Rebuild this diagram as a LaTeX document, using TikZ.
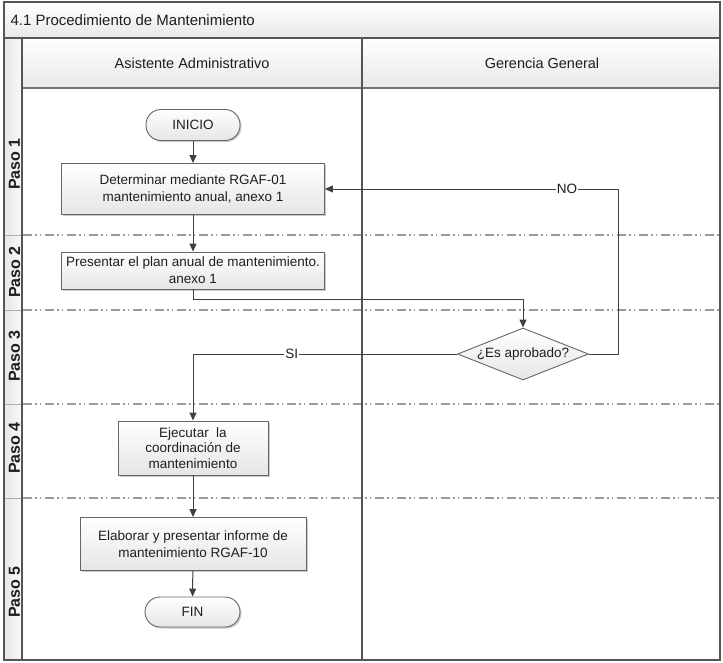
\documentclass[tikz,border=0pt]{standalone}
\usepackage{fontspec}
\setmainfont{Liberation Sans}
\usetikzlibrary{shapes.geometric,arrows.meta,shadows}
\definecolor{framegray}{HTML}{555555}
\definecolor{linegray}{HTML}{404040}
\definecolor{sepgray}{HTML}{9A9A9A}
\definecolor{txt}{HTML}{1E1E1E}
\begin{document}
\begin{tikzpicture}[x=1pt,y=-1pt,
  frame/.style={draw=framegray,line width=1.1pt},
  sep/.style={draw=sepgray,line width=1.1pt,dash pattern=on 9pt off 3pt on 1.5pt off 3pt on 1.5pt off 4pt},
  stepsep/.style={draw=sepgray!80,line width=1pt},
  hdr/.style={top color=white,bottom color=black!9},
  boxfont/.style={font=\fontsize{13.5}{17}\selectfont,text=txt},
  proc/.style={boxfont,draw=linegray!80,line width=0.9pt,shape=rectangle,align=center,inner sep=0pt,
    top color=white,bottom color=black!10,
    drop shadow={shadow xshift=1.5pt,shadow yshift=-1.5pt,fill=black!35,opacity=0.6}},
  term/.style={proc,rounded corners=15pt},
  decision/.style={boxfont,draw=linegray!80,line width=0.9pt,shape=diamond,aspect=2.5,inner sep=0pt,
    top color=white,bottom color=black!10,minimum width=131pt,minimum height=52pt},
  conn/.style={draw=linegray,line width=1pt},
  arr/.style={conn,-{Triangle[length=8pt,width=7pt]}},
  lbl/.style={boxfont,fill=white,inner sep=1pt},
  paso/.style={rotate=90,font=\fontsize{16}{16}\bfseries,text=txt}
]
\useasboundingbox (0,0) rectangle (723,662);

% title bar and lane headers
\path[hdr] (4,2) rectangle (720,38);
\path[hdr] (22,38) rectangle (720,88);
\path[left color=black!10,right color=black!2] (4,38) rectangle (22,660);
\node[anchor=west,font=\fontsize{15}{15}\selectfont,text=txt] (title) at (7,20) {4.1 Procedimiento de Mantenimiento};
\node[font=\fontsize{14.5}{15}\selectfont,text=txt] (laneA) at (192,63) {Asistente Administrativo};
\node[font=\fontsize{14.5}{15}\selectfont,text=txt] (laneB) at (542,63) {Gerencia General};

% row separators
\foreach \yy in {235,310,404,498} {
  \draw[stepsep] (4,\yy) -- (22,\yy);
  \draw[sep] (23,\yy) -- (719,\yy);
}

% frame lines
\draw[frame] (4,38) -- (720,38);
\draw[draw=black!55,line width=1.6pt] (22,88) -- (720,88);
\draw[frame] (22,38) -- (22,660);
\draw[frame] (362,38) -- (362,660);
\draw[frame] (4,2) rectangle (720,660);

% step labels
\node[paso] (p1) at (14.5,164) {Paso 1};
\node[paso] (p2) at (14.5,272) {Paso 2};
\node[paso] (p3) at (14.5,356) {Paso 3};
\node[paso] (p4) at (14.5,448) {Paso 4};
\node[paso] (p5) at (14.5,592) {Paso 5};

% flow nodes
\node[term,minimum width=94pt,minimum height=31pt] (inicio) at (193,125) {INICIO};
\node[proc,minimum width=263pt,minimum height=51pt] (b1) at (193,189) {Determinar mediante RGAF-01\\mantenimiento anual, anexo 1};
\node[proc,minimum width=263pt,minimum height=37pt] (b2) at (193,270.5) {Presentar el plan anual de mantenimiento.\\anexo 1};
\node[decision] (dec) at (523,354) {¿Es aprobado?};
\node[proc,minimum width=150pt,minimum height=54pt,font=\fontsize{13.5}{15.5}\selectfont] (b4) at (193,448) {Ejecutar\ \ la\\coordinación de\\mantenimiento};
\node[proc,minimum width=226pt,minimum height=53pt] (b5) at (193,544) {Elaborar y presentar informe de\\mantenimiento RGAF-10};
\node[term,minimum width=95pt,minimum height=30pt] (fin) at (192.5,612) {FIN};

% connectors
\coordinate (nocorner) at (618,354);
\draw[arr] (inicio) -- (b1);
\draw[arr] (b1) -- (b2);
\draw[arr] (b2.south) -- ++(0,10) -| (dec.north);
\draw[arr] (dec.east) -- (nocorner) |- (b1.east) node[lbl,pos=0.587] (no) {NO};
\draw[arr] (dec.west) -| (b4.north) node[lbl,pos=0.313] (si) {SI};
\draw[arr] (b4) -- (b5);
\draw[arr] (b5) -- (fin);
\end{tikzpicture}
\end{document}
